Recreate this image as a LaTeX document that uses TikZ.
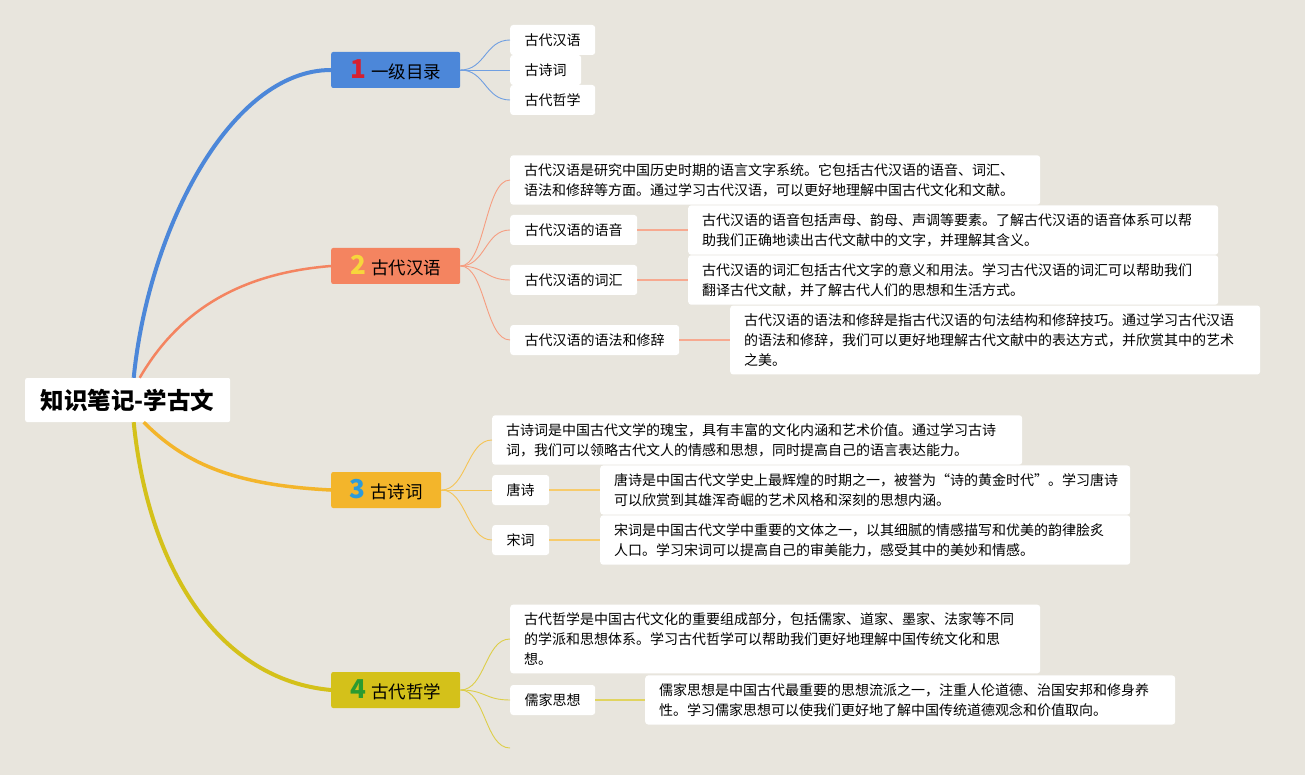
\documentclass[tikz,border=0pt]{standalone}
\usepackage{fontspec}
\setmainfont{Noto Sans CJK SC}
\definecolor{paper}{RGB}{232,229,221}
\definecolor{blueA}{RGB}{76,135,217}
\definecolor{salmonA}{RGB}{244,132,96}
\definecolor{orangeA}{RGB}{243,181,43}
\definecolor{oliveA}{RGB}{212,193,26}
\definecolor{numred}{RGB}{214,32,48}
\definecolor{numyellow}{RGB}{247,214,60}
\definecolor{numblue}{RGB}{44,155,219}
\definecolor{numgreen}{RGB}{43,155,48}
\newcommand{\badgefont}{\fontsize{26}{26}\selectfont\bfseries}
\begin{document}
\begin{tikzpicture}[x=1pt,y=-1pt,
  root/.style={fill=white,rounded corners=2pt,anchor=west,minimum width=205pt,minimum height=44pt,font=\fontsize{23.5}{25}\selectfont\bfseries},
  branch/.style={rounded corners=2pt,anchor=west,minimum height=36pt,inner xsep=0pt,font=\fontsize{17.5}{20}\selectfont},
  topic/.style={fill=white,rounded corners=3pt,anchor=west,inner xsep=14.5pt,inner ysep=0pt,minimum height=30pt,font=\fontsize{14}{16}\selectfont},
  note/.style={fill=white,rounded corners=3pt,anchor=west,align=left,text width=502pt,inner xsep=14pt,inner ysep=8pt,font=\fontsize{14}{20}\selectfont},
  twig/.style={line width=0.9pt},
  stem/.style={line width=1.6pt}]
  \fill[paper] (0,0) rectangle (1305,775);
  \node[root] (root) at (25,400) {知识笔记-学古文};
  \node[branch,fill=blueA,minimum width=129pt] (b1) at (331,70) {{\color{numred}\badgefont 1}\hspace{5pt}一级目录};
  \node[branch,fill=salmonA,minimum width=129pt] (b2) at (331,266) {{\color{numyellow}\badgefont 2}\hspace{5pt}古代汉语};
  \node[branch,fill=orangeA,minimum width=110pt] (b3) at (331,490) {{\color{numblue}\badgefont 3}\hspace{5pt}古诗词};
  \node[branch,fill=oliveA,minimum width=129pt] (b4) at (331,690) {{\color{numgreen}\badgefont 4}\hspace{5pt}古代哲学};
  \draw[blueA,line width=4pt] ([xshift=6pt]root.north) .. controls +(15,-150) and +(-100,0) .. (b1.west);
  \draw[salmonA,line width=2.5pt] ([xshift=12pt]root.north) .. controls +(35,-60) and +(-100,8) .. (b2.west);
  \draw[orangeA,line width=3.5pt] ([xshift=16pt]root.south) .. controls +(40,40) and +(-100,-5) .. (b3.west);
  \draw[oliveA,line width=4pt] ([xshift=6pt]root.south) .. controls +(15,150) and +(-110,-10) .. (b4.west);

  \foreach \name/\txt/\yy in {c11/古代汉语/40,c12/古诗词/70,c13/古代哲学/100}{
    \node[topic] (\name) at (510,\yy) {\txt};
    \draw[twig,blueA!80] (b1.east) .. controls +(25,0) and +(-25,0) .. (\name.west);
  }

  \node[note] (n20) at (510,180) {古代汉语是研究中国历史时期的语言文字系统。它包括古代汉语的语音、词汇、\\语法和修辞等方面。通过学习古代汉语，可以更好地理解中国古代文化和文献。};
  \node[topic] (c21) at (510,230) {古代汉语的语音};
  \node[note] (n21) at (688,230) {古代汉语的语音包括声母、韵母、声调等要素。了解古代汉语的语音体系可以帮\\助我们正确地读出古代文献中的文字，并理解其含义。};
  \node[topic] (c22) at (510,280) {古代汉语的词汇};
  \node[note] (n22) at (688,280) {古代汉语的词汇包括古代文字的意义和用法。学习古代汉语的词汇可以帮助我们\\翻译古代文献，并了解古代人们的思想和生活方式。};
  \node[topic] (c23) at (510,340) {古代汉语的语法和修辞};
  \node[note] (n23) at (730,340) {古代汉语的语法和修辞是指古代汉语的句法结构和修辞技巧。通过学习古代汉语\\的语法和修辞，我们可以更好地理解古代文献中的表达方式，并欣赏其中的艺术\\之美。};
  \foreach \name in {n20,c21,c22,c23}
    \draw[twig,salmonA!80] (b2.east) .. controls +(25,0) and +(-25,0) .. (\name.west);
  \foreach \a/\b in {c21/n21,c22/n22,c23/n23}
    \draw[stem,salmonA!70] (\a) -- (\b);

  \node[note] (n30) at (492,440) {古诗词是中国古代文学的瑰宝，具有丰富的文化内涵和艺术价值。通过学习古诗\\词，我们可以领略古代文人的情感和思想，同时提高自己的语言表达能力。};
  \node[topic] (c31) at (492,490) {唐诗};
  \node[note] (n31) at (600,490) {唐诗是中国古代文学史上最辉煌的时期之一，被誉为“诗的黄金时代”。学习唐诗\\可以欣赏到其雄浑奇崛的艺术风格和深刻的思想内涵。};
  \node[topic] (c32) at (492,540) {宋词};
  \node[note] (n32) at (600,540) {宋词是中国古代文学中重要的文体之一，以其细腻的情感描写和优美的韵律脍炙\\人口。学习宋词可以提高自己的审美能力，感受其中的美妙和情感。};
  \foreach \name in {n30,c31,c32}
    \draw[twig,orangeA!80] (b3.east) .. controls +(25,0) and +(-25,0) .. (\name.west);
  \foreach \a/\b in {c31/n31,c32/n32}
    \draw[stem,orangeA!70] (\a) -- (\b);

  \node[note] (n40) at (510,639) {古代哲学是中国古代文化的重要组成部分，包括儒家、道家、墨家、法家等不同\\的学派和思想体系。学习古代哲学可以帮助我们更好地理解中国传统文化和思\\想。};
  \node[topic] (c41) at (510,700) {儒家思想};
  \node[note] (n41) at (645,700) {儒家思想是中国古代最重要的思想流派之一，注重人伦道德、治国安邦和修身养\\性。学习儒家思想可以使我们更好地了解中国传统道德观念和价值取向。};
  \coordinate (c42) at (510,748);
  \foreach \name in {n40,c41}
    \draw[twig,oliveA!80] (b4.east) .. controls +(25,0) and +(-25,0) .. (\name.west);
  \draw[twig,oliveA!80] (b4.east) .. controls +(25,0) and +(-25,0) .. (c42);
  \draw[stem,oliveA!70] (c41) -- (n41);
\end{tikzpicture}
\end{document}
